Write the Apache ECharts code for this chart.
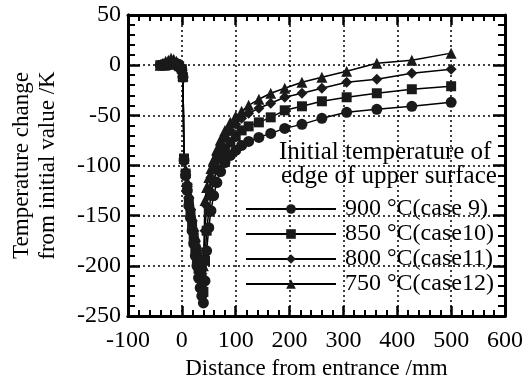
<!DOCTYPE html>
<html>
<head>
<meta charset="utf-8">
<script src="https://cdn.jsdelivr.net/npm/echarts@6/dist/echarts.min.js"></script>
<style>
  html, body { margin: 0; padding: 0; background: #fff; }
  #wrap { position: relative; width: 530px; height: 379px; }
  #chart, #frame { position: absolute; left: 0; top: 0; width: 530px; height: 379px; }
  #frame { pointer-events: none; }
</style>
</head>
<body>
<div id="wrap">
  <div id="chart"></div>
  <div id="frame"></div>
</div>
<script>
var FONT = "'Liberation Serif', 'Times New Roman', serif";

// distance from entrance /mm (shared mesh)
var distance = [-40, -35, -30, -25, -20, -15, -10, -5, 0, 2, 4,
  7, 10, 13, 16, 19, 22, 25, 28, 31, 34, 37, 40,
  43, 46, 50, 54, 59, 65, 72, 80, 90, 100,
  111, 124, 143, 165, 191, 223, 260, 306, 362, 427, 500];

// temperature change from initial value /K
var case9 = [0, 0, 0, 0, 1, 1, 0, -2, -5, -12, -95,
  -110, -125, -140, -152, -165, -178, -190, -200, -212, -222, -230, -237,
  -215, -185, -162, -145, -130, -117, -106, -97, -90, -85,
  -80, -76, -72, -68, -63, -59, -53, -47, -44, -41, -37];
var case10 = [0, 0, 1, 1, 2, 2, 1, -1, -4, -12, -93,
  -108, -122, -136, -148, -160, -172, -183, -193, -203, -212, -220, -226,
  -195, -165, -146, -130, -116, -104, -93, -84, -77, -71,
  -65, -61, -57, -52, -45, -41, -36, -32, -28, -24, -21];
var case11 = [0, 1, 2, 2, 3, 3, 2, 0, -3, -11, -93,
  -106, -119, -132, -144, -155, -166, -176, -185, -194, -202, -208, -212,
  -165, -140, -124, -112, -101, -90, -80, -72, -65, -59,
  -53, -48, -43, -38, -32, -28, -23, -17, -14, -8, -4];
var case12 = [0, 2, 4, 5, 7, 6, 4, 1, -2, -10, -93,
  -104, -116, -128, -139, -150, -160, -170, -178, -186, -192, -197, -200,
  -135, -122, -112, -103, -94, -84, -74, -65, -57, -51,
  -46, -40, -34, -28, -23, -17, -12, -6, 2, 5, 12];

var seriesNames = ['900 \u00B0C(case 9)', '850 \u00B0C(case10)', '800 \u00B0C(case11)', '750 \u00B0C(case12)'];
var seriesValues = [case9, case10, case11, case12];
var symbols = ['circle', 'rect', 'diamond', 'triangle'];
var symbolSizes = [11, 10, 11, 11];

function pairs(vals) {
  var out = [];
  for (var i = 0; i < distance.length; i++) out.push([distance[i], vals[i]]);
  return out;
}

var GRID = { left: 128, right: 25, top: 15, bottom: 63, outerBoundsMode: 'none' };

// ---- main chart: labels, names, grid lines, data, legend ----
var chart = echarts.init(document.getElementById('chart'));
chart.setOption({
  animation: false,
  grid: GRID,
  xAxis: {
    type: 'value', min: -100, max: 600, interval: 100,
    axisLine: { show: true, onZero: false, lineStyle: { color: '#000', width: 3 } },
    axisTick: { show: false },
    splitLine: { show: true, lineStyle: { color: '#000', type: [2, 3], width: 1.5 } },
    axisLabel: { color: '#000', fontSize: 24, fontFamily: FONT, margin: 13 },
    name: 'Distance from entrance /mm', nameLocation: 'middle', nameGap: 38,
    nameTextStyle: { color: '#000', fontSize: 23, fontFamily: FONT }
  },
  yAxis: {
    type: 'value', min: -250, max: 50, interval: 50,
    axisLine: { show: true, onZero: false, lineStyle: { color: '#000', width: 3 } },
    axisTick: { show: false },
    splitLine: { show: true, lineStyle: { color: '#000', type: [2, 3], width: 1.5 } },
    axisLabel: { color: '#000', fontSize: 24, fontFamily: FONT, margin: 7 },
    name: 'Temperature change\nfrom initial value /K', nameLocation: 'middle',
    nameGap: 67, nameRotate: 90,
    nameTextStyle: { color: '#000', fontSize: 23, fontFamily: FONT, lineHeight: 26 }
  },
  legend: {
    orient: 'vertical', left: 240, top: 192,
    itemWidth: 90, itemHeight: 12, itemGap: 1,
    data: seriesNames,
    textStyle: { color: '#000', fontSize: 24, fontFamily: FONT, padding: [0, 0, 0, 4] }
  },
  graphic: [
    { type: 'text', left: 279, top: 140, z: 10,
      style: { text: 'Initial temperature of', fill: '#000', font: '25px ' + FONT } },
    { type: 'text', left: 281, top: 164, z: 10,
      style: { text: 'edge of upper surface', fill: '#000', font: '25px ' + FONT } }
  ],
  series: seriesNames.map(function (n, k) {
    return {
      name: n, type: 'line', data: pairs(seriesValues[k]),
      symbol: symbols[k], symbolSize: symbolSizes[k],
      lineStyle: { color: '#000', width: 1.5 },
      itemStyle: { color: '#1a1a1a' }
    };
  })
});

// ---- overlaid frame: border with inward major/minor ticks on all four sides ----
function frameAx(isX, pos) {
  return {
    type: 'value', position: pos,
    min: isX ? -100 : -250, max: isX ? 600 : 50, interval: isX ? 100 : 50,
    axisLine: { show: true, onZero: false, lineStyle: { color: '#000', width: 3 } },
    axisTick: { show: true, inside: true, length: isX ? 10 : 12, lineStyle: { color: '#000', width: 2.5 } },
    minorTick: { show: true, splitNumber: 5, length: isX ? 6 : 7, lineStyle: { color: '#000', width: 2 } },
    splitLine: { show: false },
    axisLabel: { show: true, fontSize: 10, color: 'rgba(0,0,0,0)' }
  };
}
var frame = echarts.init(document.getElementById('frame'));
frame.setOption({
  animation: false,
  backgroundColor: 'transparent',
  grid: GRID,
  xAxis: [frameAx(true, 'bottom'), frameAx(true, 'top')],
  yAxis: [frameAx(false, 'left'), frameAx(false, 'right')],
  series: [{ type: 'line', data: [], silent: true }]
});
</script>
</body>
</html>
